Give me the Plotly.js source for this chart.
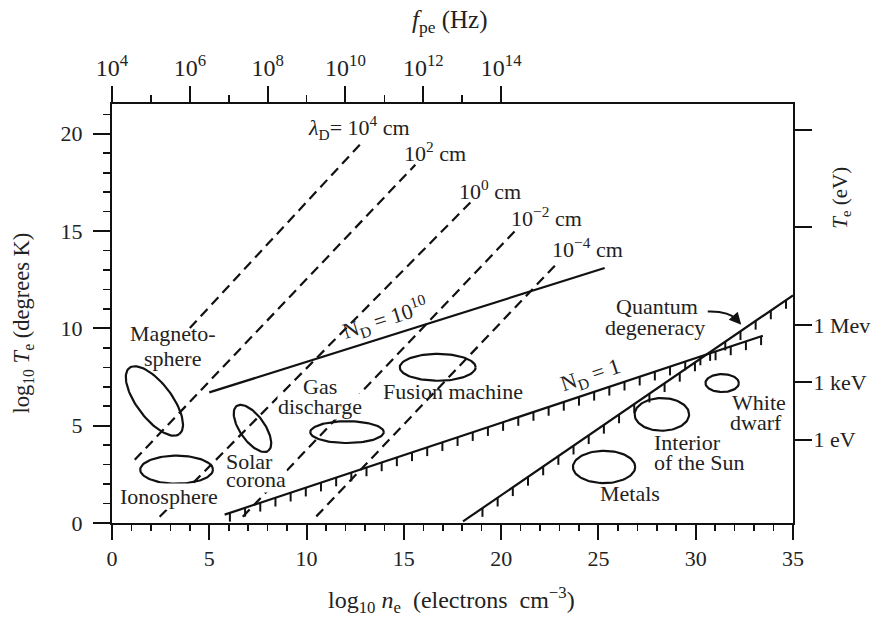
<!DOCTYPE html>
<html>
<head>
<meta charset="utf-8">
<script src="https://cdn.plot.ly/plotly-3.0.1.min.js"></script>
<style>html,body{margin:0;padding:0;background:#fff;}#chart{width:872px;height:618px;}</style>
</head>
<body>
<div id="chart"></div>
<script>
// ---------- data ----------
const xTickVals = [0, 5, 10, 15, 20, 25, 30, 35];
const yTickVals = [0, 5, 10, 15, 20];
const fpeTickVals = [0, 4, 8, 12, 16, 20];
const fpeTickText = ['10<sup>4</sup>', '10<sup>6</sup>', '10<sup>8</sup>', '10<sup>10</sup>', '10<sup>12</sup>', '10<sup>14</sup>'];
const fpeMinorVals = [2, 6, 10, 14, 18];
const teTickVals = [4.28, 7.25, 10.17, 15.2, 20.17];
const teTickText = ['1 eV', '1 keV', '1 Mev', '', ''];

// Debye length lines (dashed)
const debyeLabels = ['<i>λ</i><sub>D</sub>= 10<sup>4</sup> cm', '10<sup>2</sup> cm', '10<sup>0</sup> cm', '10<sup>−2</sup> cm', '10<sup>−4</sup> cm'];
const debyeStartX = [4.0, 1.17, 2.45, 6.72, 10.50];
const debyeStartY = [10.02, 3.25, 0.32, 0.32, 0.34];
const debyeEndX = [12.82, 15.59, 18.42, 20.86, 22.97];
const debyeEndY = [19.53, 18.41, 16.47, 15.16, 13.44];

// N_D lines (solid)
const ndLabels = ['N<sub>D</sub> = 10<sup>10</sup>', 'N<sub>D</sub> = 1'];
const ndStartX = [5.0, 5.79];
const ndStartY = [6.71, 0.43];
const ndEndX = [25.32, 33.45];
const ndEndY = [13.10, 9.62];

// Quantum degeneracy line
const quantumLabel = ['Quantum', 'degeneracy'];
const quantumX = [18.04, 35.0];
const quantumY = [0.08, 11.7];

// Plasma regions (ellipses)
const regionNames = ['Magnetosphere', 'Ionosphere', 'Solar corona', 'Gas discharge', 'Fusion machine', 'Metals', 'Interior of the Sun', 'White dwarf'];
const regionCX = [2.18, 3.32, 7.22, 12.08, 16.74, 25.29, 28.26, 31.36];
const regionCY = [6.27, 2.74, 4.86, 4.67, 8.00, 2.88, 5.58, 7.19];
const regionA = [2.13, 1.87, 1.41, 1.89, 1.95, 1.60, 1.40, 0.86];
const regionB = [0.90, 0.72, 0.64, 0.56, 0.69, 0.83, 0.84, 0.46];
const regionTilt = [-53, 0, -55, 0, 0, 0, 0, 0];

// Region label lines
const regionLabelText = ['Magneto-', 'sphere', 'Ionosphere', 'Solar', 'corona', 'Gas', 'discharge', 'Fusion machine', 'Metals', 'Interior', 'of the Sun', 'White', 'dwarf'];

// ---------- styles / positions ----------
const FONT = 'Liberation Serif, Times New Roman, serif';
const INK = '#111';
const TXT = '#222';
const W = 872, H = 618;
const M = {l: 112, r: 79, t: 104, b: 95};
const PLOT_W = W - M.l - M.r, PLOT_H = H - M.t - M.b;
const XMAX = 35, YMAX = 21.53;
const ux = XMAX / PLOT_W, uy = YMAX / PLOT_H;   // axis units per pixel
// [x, y, xanchor, white background]
const regionLabelPos = [
  [3.14, 9.72, 'center', false], [3.12, 8.44, 'center', false], [2.94, 1.36, 'center', true],
  [5.79, 3.17, 'left', false], [5.79, 2.23, 'left', true], [10.70, 7.0, 'center', false], [10.70, 5.98, 'center', true],
  [17.55, 6.75, 'center', false], [26.6, 1.51, 'center', false], [27.8, 4.13, 'left', false], [27.8, 3.10, 'left', false],
  [33.27, 6.18, 'center', false], [33.11, 5.15, 'center', false]
];
const quantumLabelPos = [[28.02, 11.12], [27.89, 10.04]];
const debyeLabelPos = [[12.67, 20.31], [16.61, 19.08], [19.41, 17.13], [22.32, 15.74], [24.46, 14.15]];
const ndLabelPos = [[14.02, 10.53, -17.5], [24.6, 7.57, -18.5]];
const HATCH_STEP = 0.78, HATCH_LEN = 0.45;

const traces = [];

// dashed Debye lines
for (let i = 0; i < debyeLabels.length; i++) {
  traces.push({x: [debyeStartX[i], debyeEndX[i]], y: [debyeStartY[i], debyeEndY[i]], mode: 'lines',
    line: {color: INK, width: 2.2, dash: '10px,6px'}, hoverinfo: 'skip', showlegend: false});
}
// hatch helper
function hatch(x0, y0, x1, y1, first) {
  const hx = [], hy = [];
  const s = (y1 - y0) / (x1 - x0);
  for (let x = first; x <= x1 + 1e-6; x += HATCH_STEP) {
    const y = y0 + s * (x - x0);
    hx.push(x, x, null); hy.push(y, y - HATCH_LEN, null);
  }
  return {x: hx, y: hy, mode: 'lines', line: {color: INK, width: 2}, hoverinfo: 'skip', showlegend: false};
}
// N_D lines
for (let i = 0; i < ndLabels.length; i++) {
  traces.push({x: [ndStartX[i], ndEndX[i]], y: [ndStartY[i], ndEndY[i]], mode: 'lines',
    line: {color: INK, width: 2.2}, hoverinfo: 'skip', showlegend: false});
}
traces.push(hatch(ndStartX[1], ndStartY[1], ndEndX[1], ndEndY[1], ndStartX[1] + 0.27));
// quantum line
traces.push({x: quantumX, y: quantumY, mode: 'lines', line: {color: INK, width: 2.2}, hoverinfo: 'skip', showlegend: false});
traces.push(hatch(quantumX[0], quantumY[0], quantumX[1], quantumY[1], quantumX[0] + 1.0));

// ellipses
for (let i = 0; i < regionNames.length; i++) {
  const ex = [], ey = [];
  const th = regionTilt[i] * Math.PI / 180;
  for (let k = 0; k <= 96; k++) {
    const t = 2 * Math.PI * k / 96;
    const u = regionA[i] * Math.cos(t), v = regionB[i] * Math.sin(t);
    ex.push(regionCX[i] + u * Math.cos(th) - v * Math.sin(th));
    ey.push(regionCY[i] + u * Math.sin(th) + v * Math.cos(th));
  }
  traces.push({x: ex, y: ey, mode: 'lines', name: regionNames[i], line: {color: INK, width: 2.2}, hoverinfo: 'skip', showlegend: false});
}

// invisible traces so the overlay axis pairs (x2/y2, x4/y4, x5/y5) are drawn
const ghost = (xa, ya) => ({x: [0], y: [0], xaxis: xa, yaxis: ya, mode: 'markers', marker: {opacity: 0}, hoverinfo: 'skip', showlegend: false});
traces.push(ghost('x2', 'y2'), ghost('x4', 'y4'), ghost('x5', 'y5'));

// minor ticks, second route: unclipped line markers just outside the axes
const bx = [], by = [], lx = [], ly = [];
for (let v = 1; v < XMAX; v++) if (v % 5) { bx.push(v); by.push(-3.5 * uy); }
fpeMinorVals.forEach(v => { bx.push(v); by.push(YMAX + 4 * uy); });
for (let v = 1; v < YMAX; v++) if (v % 5) { lx.push(-4 * ux); ly.push(v); }
traces.push({x: bx, y: by, mode: 'markers', cliponaxis: false, hoverinfo: 'skip', showlegend: false,
  marker: {symbol: 'line-ns-open', size: 7.5, color: INK, line: {color: INK, width: 1.6}}});
traces.push({x: lx, y: ly, mode: 'markers', cliponaxis: false, hoverinfo: 'skip', showlegend: false,
  marker: {symbol: 'line-ew-open', size: 8, color: INK, line: {color: INK, width: 1.6}}});

const annotations = [];
const tf = (s) => ({family: FONT, size: s, color: TXT});
// labels with a white backing first, so that the other labels are drawn on top of them
[true, false].forEach(pass => {
  regionLabelText.forEach((t, i) => {
    const p = regionLabelPos[i];
    if (p[3] !== pass) return;
    const a = {x: p[0], y: p[1], xref: 'x', yref: 'y', text: t, showarrow: false, xanchor: p[2], yanchor: 'middle', font: tf(22), borderpad: 0};
    if (p[3]) a.bgcolor = '#fff';
    annotations.push(a);
  });
});
quantumLabel.forEach((t, i) => {
  annotations.push({x: quantumLabelPos[i][0], y: quantumLabelPos[i][1], xref: 'x', yref: 'y', text: t, showarrow: false, xanchor: 'center', yanchor: 'middle', font: tf(22)});
});
debyeLabels.forEach((t, i) => {
  annotations.push({x: debyeLabelPos[i][0], y: debyeLabelPos[i][1], xref: 'x', yref: 'y', text: t, showarrow: false, xanchor: 'center', yanchor: 'middle', font: tf(22)});
});
ndLabels.forEach((t, i) => {
  annotations.push({x: ndLabelPos[i][0], y: ndLabelPos[i][1], xref: 'x', yref: 'y', text: t, showarrow: false, textangle: ndLabelPos[i][2], xanchor: 'center', yanchor: 'middle', font: tf(22)});
});
// arrow head for quantum degeneracy
annotations.push({x: 32.34, y: 10.19, ax: 32.08, ay: 10.48, xref: 'x', yref: 'y', axref: 'x', ayref: 'y', text: '', showarrow: true,
  arrowhead: 2, arrowsize: 1.2, arrowwidth: 2, arrowcolor: INK, standoff: 0});
// axis titles
annotations.push({x: 0.499, y: -0.183, xref: 'paper', yref: 'paper', text: 'log<sub>10</sub> <i>n</i><sub>e</sub>  (electrons  cm<sup>−3</sup>)', showarrow: false, xanchor: 'center', yanchor: 'middle', font: tf(24)});
annotations.push({x: -0.131, y: 10.29, xref: 'paper', yref: 'y', text: 'log<sub>10</sub> <i>T</i><sub>e</sub> (degrees K)', showarrow: false, textangle: -90, xanchor: 'center', yanchor: 'middle', font: tf(22.5)});
annotations.push({x: 0.496, y: 1.196, xref: 'paper', yref: 'paper', text: '<i>f</i><sub>pe</sub> (Hz)', showarrow: false, xanchor: 'center', yanchor: 'middle', font: tf(25)});
annotations.push({x: 1.070, y: 16.7, xref: 'paper', yref: 'y', text: '<i>T</i><sub>e</sub> (eV)', showarrow: false, textangle: -90, xanchor: 'center', yanchor: 'middle', font: tf(21)});

const axBase = {showline: true, linewidth: 2, linecolor: INK, ticks: 'outside', tickwidth: 2, tickcolor: INK,
  showgrid: false, zeroline: false, fixedrange: true, tickfont: tf(22)};
const minorBase = {showline: false, showgrid: false, zeroline: false, fixedrange: true, showticklabels: false,
  ticks: 'outside', tickwidth: 1.6, tickcolor: INK};
const layout = {
  width: W, height: H,
  margin: M,
  paper_bgcolor: '#fff', plot_bgcolor: 'rgba(0,0,0,0)',
  showlegend: false,
  xaxis: Object.assign({}, axBase, {range: [0, XMAX], tickmode: 'array', tickvals: xTickVals, ticklen: 15}),
  yaxis: Object.assign({}, axBase, {range: [0, YMAX], tickmode: 'array', tickvals: yTickVals, ticklen: 17, ticklabelstandoff: 6}),
  xaxis2: Object.assign({}, axBase, {overlaying: 'x', side: 'top', anchor: 'y2', range: [0, XMAX], tickmode: 'array', tickvals: fpeTickVals, ticktext: fpeTickText, ticklen: 16, tickfont: tf(24)}),
  yaxis2: Object.assign({}, axBase, {overlaying: 'y', side: 'right', anchor: 'x2', range: [0, YMAX], tickmode: 'array', tickvals: teTickVals, ticktext: teTickText, ticklen: 17, ticklabelstandoff: -3}),
  // minor-tick axis pairs, built the same way as the x2/y2 pair
  xaxis4: Object.assign({}, minorBase, {overlaying: 'x', side: 'bottom', anchor: 'y4', range: [0, XMAX], tickmode: 'linear', tick0: 0, dtick: 1, ticklen: 7}),
  yaxis4: Object.assign({}, minorBase, {overlaying: 'y', side: 'left', anchor: 'x4', range: [0, YMAX], tickmode: 'linear', tick0: 0, dtick: 1, ticklen: 8}),
  xaxis5: Object.assign({}, minorBase, {overlaying: 'x', side: 'top', anchor: 'y5', range: [0, XMAX], tickmode: 'array', tickvals: fpeMinorVals, ticklen: 8}),
  yaxis5: Object.assign({}, minorBase, {overlaying: 'y', side: 'right', anchor: 'x5', range: [0, YMAX], ticks: ''}),
  annotations: annotations,
  shapes: [
    {type: 'path', xref: 'x', yref: 'y', path: 'M 30.62 10.87 Q 31.7 10.9 32.12 10.45', line: {color: INK, width: 2}}
  ]
};
Plotly.newPlot('chart', traces, layout, {displayModeBar: false, staticPlot: true});
</script>
</body>
</html>
